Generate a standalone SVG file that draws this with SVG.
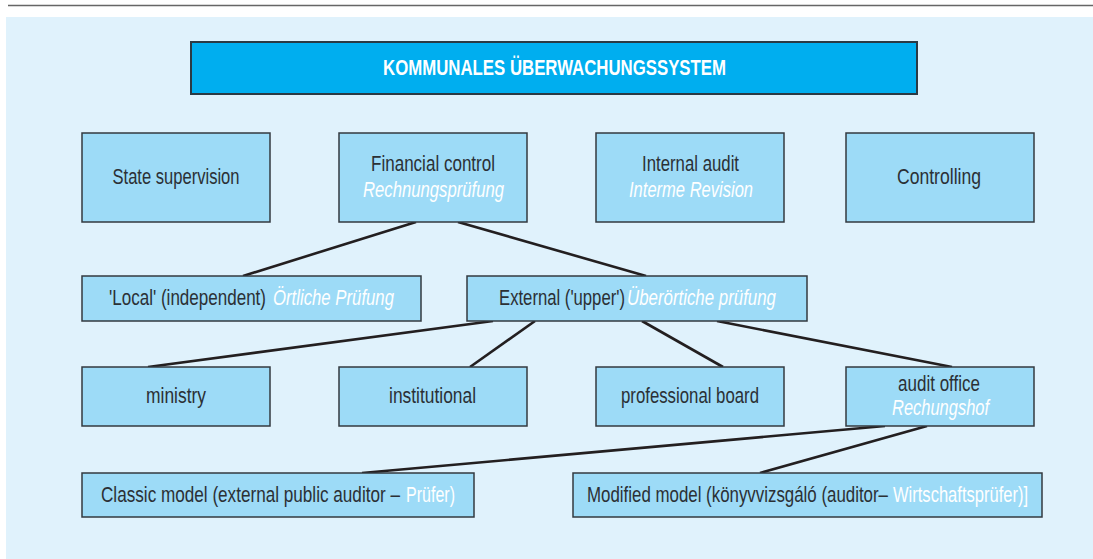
<svg xmlns="http://www.w3.org/2000/svg" width="1093" height="559" viewBox="0 0 1093 559">
  <style>
    .bg { fill: #e0f2fc; }
    .node { fill: #9ddbf7; stroke: #333a3f; stroke-width: 1.5; }
    .title { fill: #00aeef; stroke: #2a3a44; stroke-width: 2; }
    .t { font-family: "Liberation Sans", Arial, sans-serif; font-size: 22px; fill: #2b3035; text-anchor: middle; }
    .s { text-anchor: start; }
    .ht { font-family: "Liberation Sans", Arial, sans-serif; font-size: 22px; font-weight: bold; fill: #ffffff; text-anchor: middle; }
    .de { fill: #ffffff; font-style: italic; }
    .wh { fill: #ffffff; }
    .link { stroke: #231f20; stroke-width: 2.6; fill: none; }
  </style>

  <!-- page rule and panel -->
  <line x1="8" y1="5.5" x2="1093" y2="5.5" stroke="#666" stroke-width="1.5"/>
  <rect class="bg" x="6" y="17" width="1087" height="542"/>

  <!-- connectors -->
  <g id="connectors">
    <line class="link" x1="416" y1="222" x2="243" y2="276"/>
    <line class="link" x1="458" y1="222" x2="646" y2="276"/>
    <line class="link" x1="493" y1="321" x2="148" y2="367"/>
    <line class="link" x1="535" y1="321" x2="470" y2="367"/>
    <line class="link" x1="642" y1="321" x2="723" y2="367"/>
    <line class="link" x1="717" y1="321" x2="952" y2="367"/>
    <line class="link" x1="885" y1="426" x2="362" y2="473"/>
    <line class="link" x1="927" y1="426" x2="760" y2="473"/>
  </g>

  <!-- labels use a condensed face: Liberation Sans squeezed horizontally -->
  <g id="title">
    <rect class="title" x="191" y="42" width="726" height="52"/>
    <text class="ht" transform="translate(554.5,75) scale(0.78,1)" textLength="439.7" lengthAdjust="spacingAndGlyphs">KOMMUNALES ÜBERWACHUNGSSYSTEM</text>
  </g>

  <!-- first row -->
  <g id="state-supervision">
    <rect class="node" x="82" y="133" width="188" height="89"/>
    <text class="t" transform="translate(176,184) scale(0.78,1)" textLength="162.8" lengthAdjust="spacingAndGlyphs">State supervision</text>
  </g>
  <g id="financial-control">
    <rect class="node" x="339" y="133" width="188" height="89"/>
    <text class="t" transform="translate(433,171) scale(0.78,1)" textLength="159" lengthAdjust="spacingAndGlyphs">Financial control</text>
    <text class="t de" transform="translate(433.5,197) scale(0.78,1)" textLength="180.8" lengthAdjust="spacingAndGlyphs">Rechnungsprüfung</text>
  </g>
  <g id="internal-audit">
    <rect class="node" x="596" y="133" width="188" height="89"/>
    <text class="t" transform="translate(690.5,171) scale(0.78,1)" textLength="124.4" lengthAdjust="spacingAndGlyphs">Internal audit</text>
    <text class="t de" transform="translate(691,197) scale(0.78,1)" textLength="159" lengthAdjust="spacingAndGlyphs">Interme Revision</text>
  </g>
  <g id="controlling">
    <rect class="node" x="846" y="133" width="188" height="89"/>
    <text class="t" transform="translate(939,184) scale(0.78,1)" textLength="107.7" lengthAdjust="spacingAndGlyphs">Controlling</text>
  </g>

  <!-- second row -->
  <g id="local">
    <rect class="node" x="82" y="276" width="339" height="45"/>
    <text class="t s" transform="translate(109,305) scale(0.78,1)" textLength="201.3" lengthAdjust="spacingAndGlyphs">'Local' (independent)</text>
    <text class="t s de" transform="translate(273,305) scale(0.78,1)" textLength="155.1" lengthAdjust="spacingAndGlyphs">Örtliche Prüfung</text>
  </g>
  <g id="external">
    <rect class="node" x="467" y="276" width="340" height="45"/>
    <text class="t s" transform="translate(499,305) scale(0.78,1)" textLength="161.5" lengthAdjust="spacingAndGlyphs">External ('upper')</text>
    <text class="t s de" transform="translate(627,305) scale(0.78,1)" textLength="191" lengthAdjust="spacingAndGlyphs">Überörtiche prüfung</text>
  </g>

  <!-- third row -->
  <g id="ministry">
    <rect class="node" x="82" y="367" width="188" height="59"/>
    <text class="t" transform="translate(176,403) scale(0.78,1)" textLength="76.9" lengthAdjust="spacingAndGlyphs">ministry</text>
  </g>
  <g id="institutional">
    <rect class="node" x="339" y="367" width="188" height="59"/>
    <text class="t" transform="translate(432.5,403) scale(0.78,1)" textLength="111.5" lengthAdjust="spacingAndGlyphs">institutional</text>
  </g>
  <g id="professional-board">
    <rect class="node" x="596" y="367" width="188" height="59"/>
    <text class="t" transform="translate(690,403) scale(0.78,1)" textLength="176.9" lengthAdjust="spacingAndGlyphs">professional board</text>
  </g>
  <g id="audit-office">
    <rect class="node" x="846" y="367" width="188" height="59"/>
    <text class="t" transform="translate(939,391) scale(0.78,1)" textLength="105.1" lengthAdjust="spacingAndGlyphs">audit office</text>
    <text class="t de" transform="translate(940.5,415) scale(0.78,1)" textLength="124.4" lengthAdjust="spacingAndGlyphs">Rechungshof</text>
  </g>

  <!-- fourth row -->
  <g id="classic-model">
    <rect class="node" x="82" y="473" width="392" height="44"/>
    <text class="t s" transform="translate(101,502) scale(0.78,1)" textLength="383.3" lengthAdjust="spacingAndGlyphs">Classic model (external public auditor –</text>
    <text class="t s wh" transform="translate(406,502) scale(0.78,1)" textLength="62.8" lengthAdjust="spacingAndGlyphs">Prüfer)</text>
  </g>
  <g id="modified-model">
    <rect class="node" x="573" y="473" width="469" height="44"/>
    <text class="t s" transform="translate(587,502) scale(0.78,1)" textLength="385.9" lengthAdjust="spacingAndGlyphs">Modified model (könyvvizsgáló (auditor–</text>
    <text class="t s wh" transform="translate(893,502) scale(0.78,1)" textLength="173.1" lengthAdjust="spacingAndGlyphs">Wirtschaftsprüfer)]</text>
  </g>
</svg>
